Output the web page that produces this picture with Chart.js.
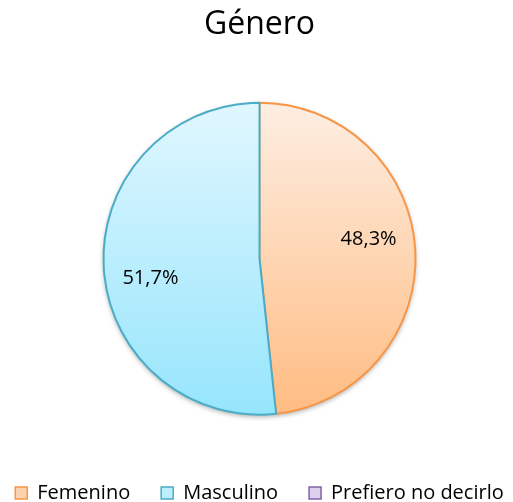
<!DOCTYPE html>
<html>
<head>
<meta charset="utf-8">
<script src="https://cdn.jsdelivr.net/npm/chart.js@4"></script>
<style>
  html, body { margin: 0; padding: 0; background: #fff; overflow: hidden; }
  #wrap { position: absolute; left: 3px; top: 0; width: 513px; height: 502px; }
</style>
</head>
<body>
<div id="wrap"><canvas id="myChart"></canvas></div>
<script>
const categories = ['Femenino', 'Masculino', 'Prefiero no decirlo'];
const shares = [48.3, 51.7, 0];
const chartTitle = 'Género';

const pieRadius = 156;
const fillStops = [['#fdeee2', '#ffbc82'], ['#e0f7ff', '#96e5fc'], ['#ece6f4', '#c7b3e6']];
const borderColors = ['#f79646', '#4bacc6', '#8064a2'];
const legendFills = ['#fdd2ae', '#bdeefc', '#dccff0'];

function gradientFill(context) {
    const chart = context.chart;
    const area = chart.chartArea;
    const stops = fillStops[context.dataIndex];
    if (!area) return stops[1];
    const cy = (area.top + area.bottom) / 2;
    const g = chart.ctx.createLinearGradient(0, cy - pieRadius, 0, cy + pieRadius);
    g.addColorStop(0, stops[0]);
    g.addColorStop(1, stops[1]);
    return g;
}

function formatShare(v) {
    return v.toFixed(1).replace('.', ',') + '%';
}

// soft shadow under the whole pie, drawn once before the slices
const pieShadow = {
    id: 'pieShadow',
    beforeDatasetsDraw(chart) {
        const arc = chart.getDatasetMeta(0).data[0];
        if (!arc) return;
        const c = chart.ctx;
        c.save();
        c.shadowColor = 'rgba(0,0,0,0.35)';
        c.shadowBlur = 5;
        c.shadowOffsetX = 0;
        c.shadowOffsetY = 2;
        c.beginPath();
        c.arc(arc.x, arc.y, arc.outerRadius, 0, Math.PI * 2);
        c.fillStyle = '#fff';
        c.fill();
        c.restore();
    }
};

// percentage labels inside the slices
const shareLabels = {
    id: 'shareLabels',
    afterDatasetsDraw(chart) {
        const c = chart.ctx;
        const meta = chart.getDatasetMeta(0);
        c.save();
        c.font = '20px "Open Sans"';
        c.fillStyle = '#000';
        c.textAlign = 'center';
        c.textBaseline = 'middle';
        meta.data.forEach((arc, i) => {
            if (!shares[i]) return;
            const p = arc.getProps(['x', 'y', 'startAngle', 'endAngle', 'outerRadius'], true);
            const mid = (p.startAngle + p.endAngle) / 2 - 0.12;
            const d = p.outerRadius * 0.71;
            c.fillText(formatShare(shares[i]), p.x + Math.cos(mid) * d, p.y + Math.sin(mid) * d);
        });
        c.restore();
    }
};

const ctx = document.getElementById('myChart').getContext('2d');
const chart = new Chart(ctx, {
    type: 'pie',
    data: {
        labels: categories,
        datasets: [{
            data: shares,
            backgroundColor: gradientFill,
            borderColor: borderColors,
            borderWidth: [2, 2, 0]
        }]
    },
    options: {
        responsive: true,
        maintainAspectRatio: false,
        animation: false,
        radius: pieRadius,
        // negative side padding lets the legend stay on one wide row
        layout: { padding: { left: -20, right: -20, top: 0, bottom: -11 } },
        plugins: {
            title: {
                display: true,
                text: chartTitle,
                color: '#000',
                font: { family: '"Open Sans"', size: 32, weight: 'normal' },
                padding: { top: 6, bottom: 21 }
            },
            legend: {
                position: 'bottom',
                labels: {
                    color: '#000',
                    font: { family: '"Open Sans"', size: 20 },
                    boxWidth: 12,
                    boxHeight: 12,
                    padding: 31,
                    generateLabels() {
                        return categories.map((name, i) => ({
                            text: name,
                            fillStyle: legendFills[i],
                            strokeStyle: borderColors[i],
                            lineWidth: 1.5,
                            hidden: false,
                            index: i,
                            fontColor: '#000'
                        }));
                    }
                }
            },
            tooltip: { enabled: false }
        }
    },
    plugins: [pieShadow, shareLabels]
});
</script>
</body>
</html>
